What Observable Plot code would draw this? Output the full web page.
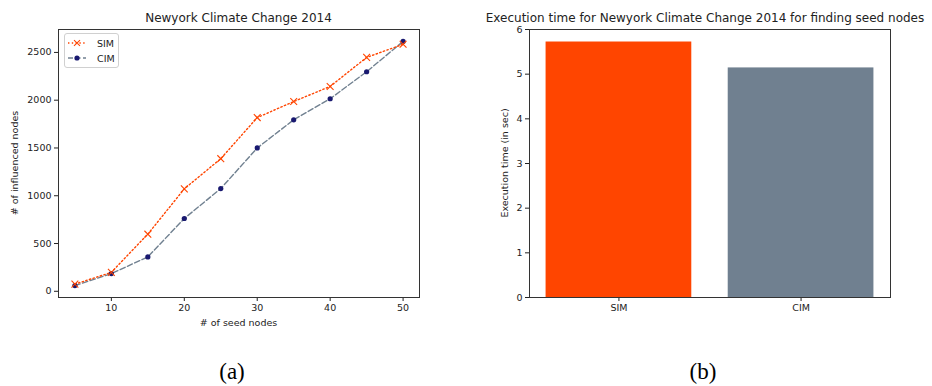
<!DOCTYPE html>
<html>
<head>
<meta charset="utf-8">
<script src="https://cdn.jsdelivr.net/npm/d3@7"></script>
<script src="https://cdn.jsdelivr.net/npm/@observablehq/plot@0.6"></script>
<style>
  html, body { margin: 0; padding: 0; background: #fff; }
  #wrap { position: relative; width: 932px; height: 386px; overflow: hidden; font-family: "DejaVu Sans", sans-serif; color: #222; }
  .panel { position: absolute; top: 0; }
  .txt { position: absolute; white-space: nowrap; line-height: 1; }
  .title { font-size: 12px; transform: translate(-50%, -50%); }
  .lab { font-size: 9.5px; transform: translate(-50%, -50%); }
  .rot { transform: translate(-50%, -50%) rotate(-90deg); }
  .cap { font-family: "Liberation Serif", "Times New Roman", serif; font-size: 23px; transform: translate(-50%, -50%); color: #000; }
  #legend { position: absolute; left: 64px; top: 33px; width: 53px; height: 33px; border: 1px solid #d0d0d0; border-radius: 3px; background: rgba(255,255,255,0.85); font-size: 9.5px; }
  #legend .row { position: absolute; left: 2px; height: 14px; display: flex; align-items: center; }
  #legend svg { display: block; }
  #legend span { margin-left: 10px; }
</style>
</head>
<body>
<div id="wrap"></div>
<script>
// ---- data ----
const seeds = [5, 10, 15, 20, 25, 30, 35, 40, 45, 50];
const simInfluenced = [75, 198, 598, 1072, 1388, 1818, 1986, 2144, 2448, 2585];
const cimInfluenced = [60, 185, 360, 762, 1075, 1500, 1795, 2015, 2298, 2615];
const seedTicks = [10, 20, 30, 40, 50];
const influenceTicks = [0, 500, 1000, 1500, 2000, 2500];

const methods = ["SIM", "CIM"];
const execTimes = [5.72, 5.14];
const timeTicks = [0, 1, 2, 3, 4, 5, 6];

const leftTitle = "Newyork Climate Change 2014";
const rightTitle = "Execution time for Newyork Climate Change 2014 for finding seed nodes";
const xLabelLeft = "# of seed nodes";
const yLabelLeft = "# of influenced nodes";
const yLabelRight = "Execution time (in sec)";

const simLine = "#ff4500";
const cimLine = "#708090";
const cimMarker = "#191970";
const barColors = ["#ff4500", "#708090"];

const wrap = document.getElementById("wrap");
const style = {fontFamily: "DejaVu Sans, sans-serif", fontSize: "9.5px", color: "#222", background: "transparent", overflow: "visible"};

// ---- left chart ----
const simData = seeds.map((s, i) => ({seed: s, value: simInfluenced[i]}));
const cimData = seeds.map((s, i) => ({seed: s, value: cimInfluenced[i]}));

const left = Plot.plot({
  width: 466, height: 386,
  marginLeft: 58, marginRight: 47, marginTop: 29, marginBottom: 89,
  style,
  x: {domain: [2.75, 52.25]},
  y: {domain: [-65, 2740]},
  marks: [
    Plot.axisX({ticks: seedTicks, tickSize: 4, tickPadding: 3, label: null, tickFormat: "d"}),
    Plot.axisY({ticks: influenceTicks, tickSize: 4, tickPadding: 3, label: null, tickFormat: "d"}),
    Plot.line(cimData, {x: "seed", y: "value", stroke: cimLine, strokeWidth: 1.4, strokeDasharray: "5.5,2.5"}),
    Plot.line(simData, {x: "seed", y: "value", stroke: simLine, strokeWidth: 1.4, strokeDasharray: "1.4,2.4"}),
    Plot.dot(cimData, {x: "seed", y: "value", fill: cimMarker, r: 2.6, stroke: "none"}),
    Plot.dot(simData, {x: "seed", y: "value", symbol: "times", stroke: simLine, strokeWidth: 1.1, r: 3.2}),
    Plot.frame({stroke: "#333", strokeWidth: 1})
  ]
});
left.classList.add("panel");
left.style.left = "0px";
wrap.appendChild(left);

// ---- right chart ----
const barData = methods.map((m, i) => ({method: m, time: execTimes[i]}));
const right = Plot.plot({
  width: 466, height: 386,
  marginLeft: 63, marginRight: 42, marginTop: 29, marginBottom: 89,
  style,
  x: {domain: methods, paddingInner: 0.2, paddingOuter: 0.091, round: false},
  y: {domain: [0, 6]},
  marks: [
    Plot.barY(barData, {x: "method", y: "time", fill: (d, i) => barColors[i]}),
    Plot.axisX({tickSize: 4, tickPadding: 3, label: null}),
    Plot.axisY({ticks: timeTicks, tickSize: 4, tickPadding: 3, label: null, tickFormat: "d"}),
    Plot.frame({stroke: "#333", strokeWidth: 1})
  ]
});
right.classList.add("panel");
right.style.left = "466px";
wrap.appendChild(right);

// ---- texts ----
function addText(text, cls, x, y) {
  const d = document.createElement("div");
  d.className = "txt " + cls;
  d.style.left = x + "px";
  d.style.top = y + "px";
  d.textContent = text;
  wrap.appendChild(d);
  return d;
}
addText(leftTitle, "title", 238.5, 18);
addText(rightTitle, "title", 705, 18);
addText(xLabelLeft, "lab", 238.5, 323);
addText(yLabelLeft, "lab rot", 15, 163);
addText(yLabelRight, "lab rot", 505, 163);
addText("(a)", "cap", 232, 371);
addText("(b)", "cap", 703, 371);

// ---- legend ----
const legend = document.createElement("div");
legend.id = "legend";
const entries = [
  {name: "SIM", stroke: simLine, dash: "1.4,2.4", marker: "x"},
  {name: "CIM", stroke: cimLine, dash: "5,2.5", marker: "o"}
];
entries.forEach((e, i) => {
  const row = document.createElement("div");
  row.className = "row";
  row.style.top = (2 + i * 15) + "px";
  const svgNS = "http://www.w3.org/2000/svg";
  const s = document.createElementNS(svgNS, "svg");
  s.setAttribute("width", "20"); s.setAttribute("height", "14");
  const ln = document.createElementNS(svgNS, "line");
  ln.setAttribute("x1", "1"); ln.setAttribute("x2", "19");
  ln.setAttribute("y1", "7"); ln.setAttribute("y2", "7");
  ln.setAttribute("stroke", e.stroke); ln.setAttribute("stroke-width", "1.4");
  ln.setAttribute("stroke-dasharray", e.dash);
  s.appendChild(ln);
  if (e.marker === "x") {
    const p = document.createElementNS(svgNS, "path");
    p.setAttribute("d", "M7,4.2L13,9.8M13,4.2L7,9.8");
    p.setAttribute("stroke", e.stroke); p.setAttribute("stroke-width", "1.1");
    s.appendChild(p);
  } else {
    const c = document.createElementNS(svgNS, "circle");
    c.setAttribute("cx", "10"); c.setAttribute("cy", "7"); c.setAttribute("r", "2.6");
    c.setAttribute("fill", cimMarker);
    s.appendChild(c);
  }
  row.appendChild(s);
  const t = document.createElement("span");
  t.textContent = e.name;
  row.appendChild(t);
  legend.appendChild(row);
});
wrap.appendChild(legend);
</script>
</body>
</html>
